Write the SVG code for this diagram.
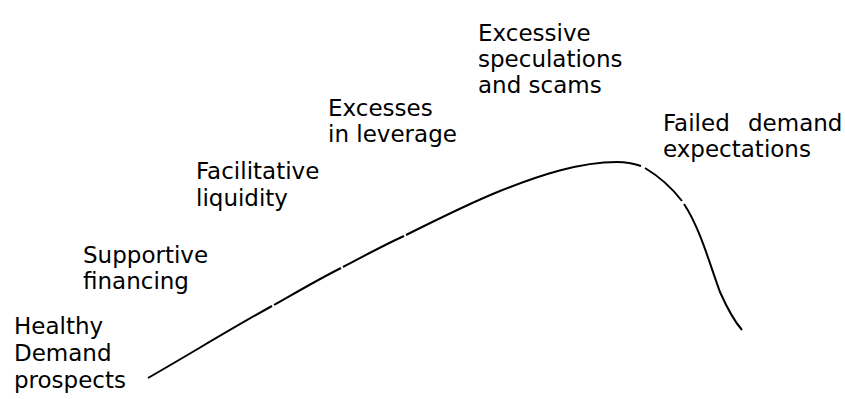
<svg xmlns="http://www.w3.org/2000/svg" width="845" height="399" viewBox="0 0 845 399">
  <style>
    .lbl { font-family: "DejaVu Sans", Verdana, sans-serif; font-size: 23px; fill: #000; }
    .curve { fill: none; stroke: #000; stroke-width: 2; stroke-linecap: butt; }
  </style>
  <rect width="845" height="399" fill="#fff"/>

  <!-- stage labels along the cycle -->
  <g id="healthy-demand">
    <text class="lbl" x="14" y="334">Healthy</text>
    <text class="lbl" x="14" y="361">Demand</text>
    <text class="lbl" x="14" y="388">prospects</text>
  </g>
  <g id="supportive-financing">
    <text class="lbl" x="83" y="263">Supportive</text>
    <text class="lbl" x="83" y="289">financing</text>
  </g>
  <g id="facilitative-liquidity">
    <text class="lbl" x="196" y="179">Facilitative</text>
    <text class="lbl" x="196" y="206">liquidity</text>
  </g>
  <g id="excesses-leverage">
    <text class="lbl" x="328" y="116">Excesses</text>
    <text class="lbl" x="328" y="142">in leverage</text>
  </g>
  <g id="excessive-speculation">
    <text class="lbl" x="478" y="41">Excessive</text>
    <text class="lbl" x="478" y="67">speculations</text>
    <text class="lbl" x="478" y="93">and scams</text>
  </g>
  <g id="failed-demand">
    <text class="lbl" x="663" y="131">Failed</text>
    <text class="lbl" x="748" y="131">demand</text>
    <text class="lbl" x="663" y="157">expectations</text>
  </g>

  <!-- boom-and-bust curve, drawn in pieces with small breaks -->
  <g id="connectors">
    <path class="curve" d="M148,378 C190,354 232,328 272,306"/>
    <path class="curve" d="M274,305 C297,292 319,279 341,268"/>
    <path class="curve" d="M343,267 C364,256 384,245 404,236"/>
    <path class="curve" d="M406,235 C440,218 470,203 500,191 C540,175 580,162 617,162 C625,162 635,164 641,166"/>
    <path class="curve" d="M645,168 C660,177 672,188 682,201"/>
    <path class="curve" d="M684,204 C700,228 710,265 720,292 C728,310 735,322 742,330"/>
  </g>
</svg>
